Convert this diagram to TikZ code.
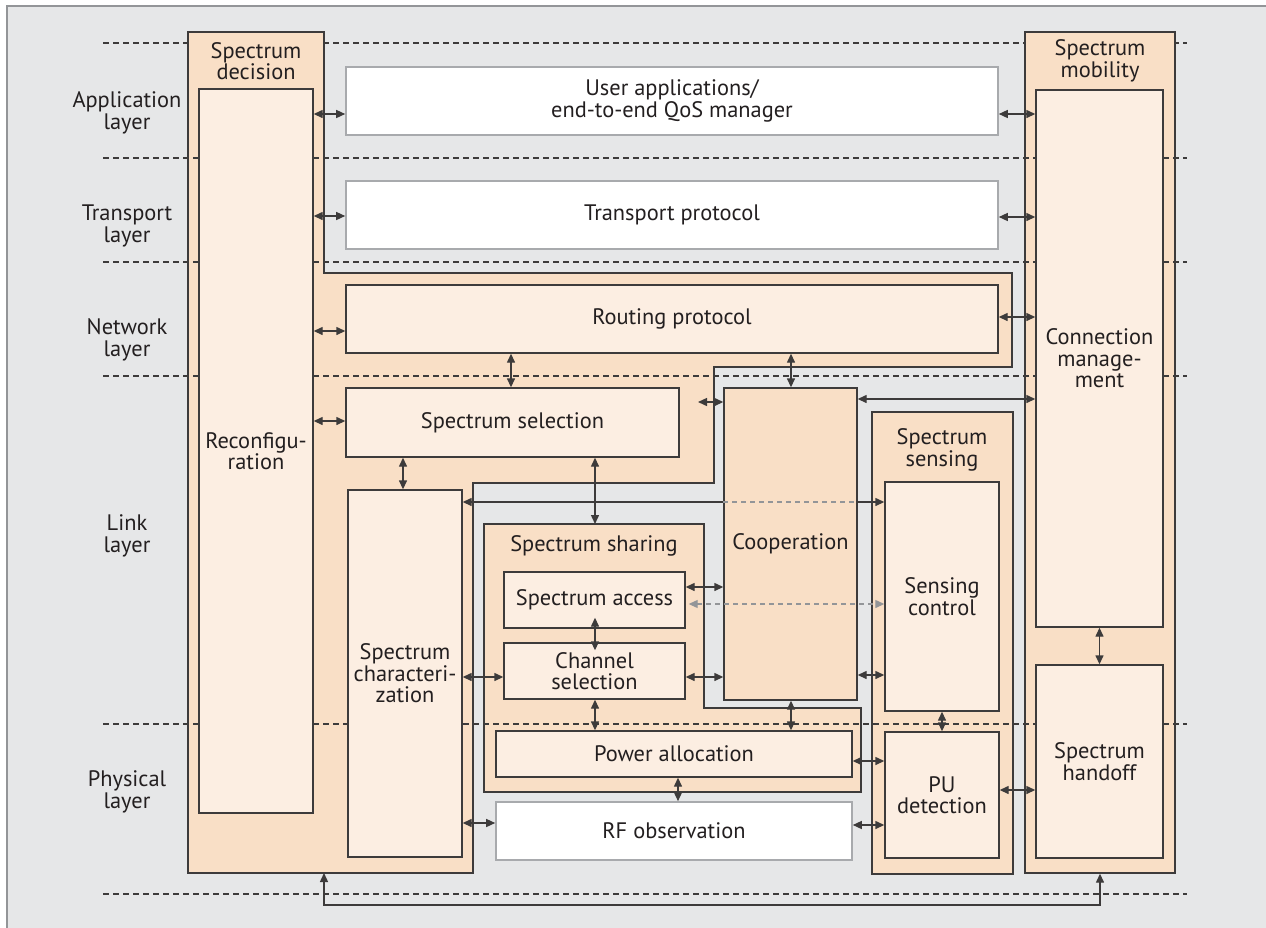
\documentclass[tikz,border=0pt]{standalone}
\usepackage{fontspec}
\setmainfont{PT Sans}
\usetikzlibrary{arrows.meta}

\definecolor{bggray}{HTML}{E6E7E8}
\definecolor{peach}{HTML}{F9DFC6}
\definecolor{lightpeach}{HTML}{FCEEE2}
\definecolor{edge}{HTML}{3D3B3B}
\definecolor{lightedge}{HTML}{A8AAAD}
\definecolor{framegray}{HTML}{939598}
\definecolor{ink}{HTML}{231F20}

\tikzset{
  every node/.style={font=\fontsize{11.2}{10.8}\selectfont, text=ink},
  spot/.style args={#1/#2/#3/#4}{minimum width={(#3-#1)*0.5pt}, minimum height={(#4-#2)*0.5pt},
    at={({(#1+#3)/2},{(#2+#4)/2})}},
  layerline/.style={edge, line width=0.6pt, dash pattern=on 3pt off 2pt},
  container/.style={draw=edge, fill=peach, line width=0.7pt, inner sep=0pt},
  innerbox/.style={draw=edge, fill=lightpeach, line width=0.7pt, inner sep=0pt, align=center},
  whitebox/.style={draw=lightedge, fill=white, line width=0.8pt, inner sep=0pt, align=center},
  title/.style={align=center},
  tip/.tip={Triangle[length=4.5pt,width=4pt]},
  dbl/.style={tip-tip, draw=edge, line width=0.7pt},
  graydash/.style={draw=framegray, line width=0.6pt, dash pattern=on 2.5pt off 2pt}
}

\begin{document}
\begin{tikzpicture}[x=0.5pt,y=-0.5pt]
\useasboundingbox (0,0) rectangle (1266,928);
% background and frame
\fill[bggray] (7,6) rectangle (1266,928);
\draw[framegray, line width=1pt] (7,928) -- (7,6) -- (1266,6);

% layer boundaries hidden by the columns
\draw[layerline] (103,43) -- (1187,43);
\draw[layerline] (103,894) -- (1187,894);

% spectrum decision column
\draw[container] (188,32) -- (324,32) -- (324,273) -- (1012,273) -- (1012,367)
  -- (714,367) -- (714,483) -- (473,483) -- (473,873) -- (188,873) -- cycle;
\coordinate (decbot) at (324,873);
\node[title] (dectitle) at (256,61) {Spectrum\\decision};

% spectrum mobility column
\node[container, spot=1025/32/1175/873] (mob) {};
\node[title] (mobtitle) at (1100,61) {Spectrum\\mobility};

% spectrum sensing column
\node[container, spot=872/412/1013/874] (sens) {};
\node[title] (senstitle) at (942,450) {Spectrum\\sensing};

% spectrum sharing
\draw[container] (484,524) -- (704,524) -- (704,708) -- (861,708) -- (861,792) -- (484,792) -- cycle;
\node (sharetitle) at (594,546) {Spectrum sharing};

% layer boundaries
\foreach \y in {158,262,376,724}
  \draw[layerline] (103,\y) -- (1187,\y);

% layer names
\node[title] (lblapp) at (127,113) {Application\\layer};
\node[title] (lbltrans) at (127,226) {Transport\\layer};
\node[title] (lblnet) at (127,340) {Network\\layer};
\node[title] (lbllink) at (127,536) {Link\\layer};
\node[title] (lblphy) at (127,792) {Physical\\layer};

% boxes
\node[innerbox, spot=199/89/313/813] (reconf) {Reconfigu-\\ration};
\node[whitebox, spot=346/67/998/135] (app) {User applications/\\end-to-end QoS manager};
\node[whitebox, spot=346/181/998/249] (trans) {Transport protocol};
\node[innerbox, spot=346/285/998/353] (rout) {Routing protocol};
\node[innerbox, spot=346/388/679/457] (sel) {Spectrum selection};
\node[innerbox, spot=348/490/462/857] (char) {Spectrum\\characteri-\\zation};
\node[container, spot=724/388/857/700] (coop) {Cooperation};
\node[innerbox, spot=504/572/685/628] (acc) {Spectrum access};
\node[innerbox, spot=504/643/685/699] (chan) {Channel\\selection};
\node[innerbox, spot=496/731/852/777] (pow) {Power allocation};
\node[whitebox, spot=496/802/852/860] (rf) {RF observation};
\node[innerbox, spot=885/482/999/711] (senctl) {Sensing\\control};
\node[innerbox, spot=885/732/999/858] (pu) {PU\\detection};
\node[innerbox, spot=1036/90/1163/627] (conn) {Connection\\manage-\\ment};
\node[innerbox, spot=1036/665/1163/858] (hand) {Spectrum\\handoff};

% links
\draw[dbl] (reconf.east |- 0,114) -- (app.west |- 0,114);
\draw[dbl] (reconf.east |- 0,216) -- (trans.west |- 0,216);
\draw[dbl] (reconf.east |- 0,331) -- (rout.west |- 0,331);
\draw[dbl] (reconf.east |- 0,421) -- (sel.west |- 0,421);
\draw[dbl] (app.east |- 0,114) -- (conn.west |- 0,114);
\draw[dbl] (trans.east |- 0,217) -- (conn.west |- 0,217);
\draw[dbl] (rout.east |- 0,317) -- (conn.west |- 0,317);
\draw[dbl] (rout.south -| 511,0) -- (sel.north -| 511,0);
\draw[dbl] (rout.south -| 791,0) -- (coop.north -| 791,0);
\coordinate (selgap) at (698,402);
\draw[dbl] (selgap) -- (coop.west |- selgap);
\draw[dbl] (coop.east |- 0,399) -- (conn.west |- 0,399);
\draw[dbl] (sel.south -| 403,0) -- (char.north -| 403,0);
\draw[dbl] (sel.south -| 595,0) -- (595,524);
% characterization to sensing control, dashed across cooperation
\draw[draw=edge, line width=0.7pt, tip-] (char.east |- 0,502) -- (coop.west |- 0,502);
\draw[graydash] (coop.west |- 0,502) -- (coop.east |- 0,502);
\draw[draw=edge, line width=0.7pt, -tip] (coop.east |- 0,502) -- (senctl.west |- 0,502);
\draw[dbl] (acc.east |- 0,587) -- (coop.west |- 0,587);
\draw[graydash, tip-tip] ([xshift=1.5pt]acc.east |- 0,604) -- (senctl.west |- 0,604);
\draw[dbl] ([yshift=5.5pt]acc.south -| 595,0) -- ([yshift=-4pt]chan.north -| 595,0);
\draw[dbl] (char.east |- 0,677) -- (chan.west |- 0,677);
\draw[dbl] (chan.east |- 0,677) -- (coop.west |- 0,677);
\draw[dbl] (coop.east |- 0,675) -- (senctl.west |- 0,675);
\draw[dbl] (chan.south -| 595,0) -- (pow.north -| 595,0);
\draw[dbl] (coop.south -| 791,0) -- (pow.north -| 791,0);
\draw[dbl] (pow.east |- 0,761) -- (pu.west |- 0,761);
\draw[dbl] (pow.south -| 678,0) -- (rf.north -| 678,0);
\draw[dbl] (char.east |- 0,823) -- (rf.west |- 0,823);
\draw[dbl] (rf.east |- 0,825) -- (pu.west |- 0,825);
\draw[dbl] (senctl.south) -- (pu.north);
\draw[dbl] (conn.south) -- (hand.north);
\draw[dbl] (pu.east |- 0,790) -- (hand.west |- 0,790);
\draw[dbl] (decbot) -- (324,905) -- (1100,905) -- (mob.south);
\end{tikzpicture}
\end{document}
